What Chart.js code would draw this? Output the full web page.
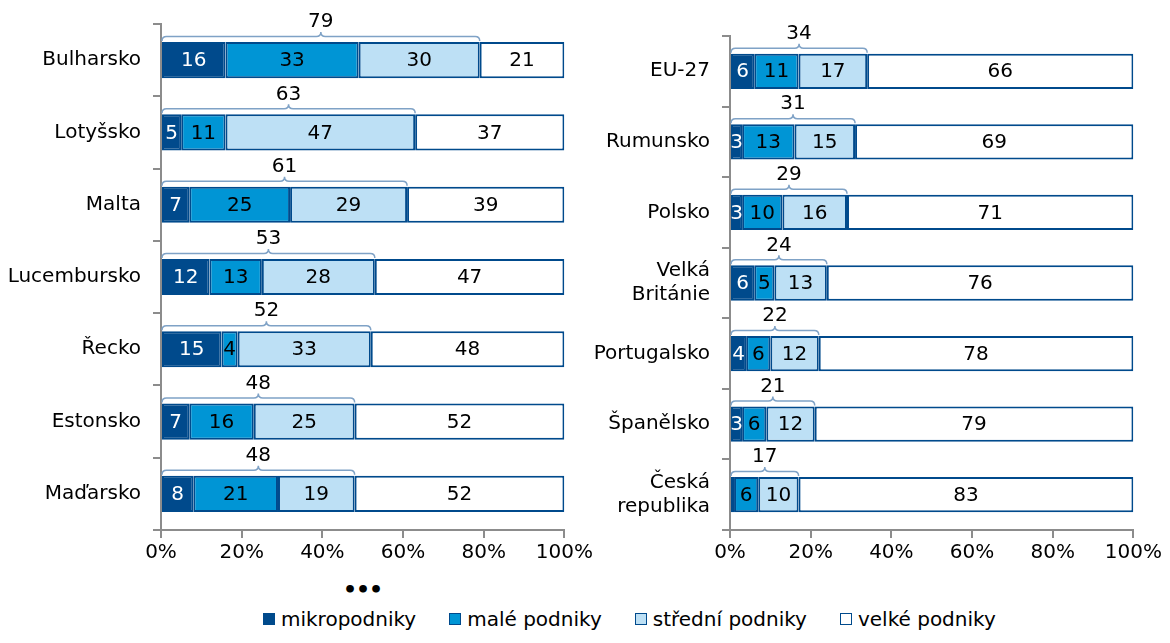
<!DOCTYPE html>
<html>
<head>
<meta charset="utf-8">
<script src="https://cdn.jsdelivr.net/npm/chart.js@4.4.1/dist/chart.umd.min.js"></script>
<style>
    body { margin: 0; background: #fff; width: 1170px; height: 643px; overflow: hidden; position: relative; font-family: "DejaVu Sans", sans-serif; }
    .box { position: absolute; top: 0; height: 570px; }
    #leftBox { left: 0; width: 596px; }
    #rightBox { left: 592px; width: 573px; }
    .dots { position: absolute; left: 343px; top: 577px; font-size: 22px; font-weight: bold; letter-spacing: -1px; }
    .legend { position: absolute; left: 263px; top: 607px; display: flex; gap: 33px; font-size: 20px; color: #000; }
    .legend span { display: flex; align-items: center; }
    .legend i { display: inline-block; width: 12px; height: 12px; margin-right: 6px; box-sizing: border-box; border: 1px solid #004a8c; }
</style>
</head>
<body>
<div class="box" id="leftBox"><canvas id="left_chart"></canvas></div>
<div class="box" id="rightBox"><canvas id="right_chart"></canvas></div>
<div class="dots">•••</div>
<div class="legend">
    <span><i style="background:#004a8c"></i>mikropodniky</span>
    <span><i style="background:#0095d5"></i>malé podniky</span>
    <span><i style="background:#bde0f5"></i>střední podniky</span>
    <span><i style="background:#fff"></i>velké podniky</span>
</div>
<script>
const seriesNames = ["mikropodniky", "malé podniky", "střední podniky", "velké podniky"];
const seriesColors = ["#004a8c", "#0095d5", "#bde0f5", "#ffffff"];
const labelColors = ["#ffffff", "#000000", "#000000", "#000000"];

const leftCategories = ["Bulharsko", "Lotyšsko", "Malta", "Lucembursko", "Řecko", "Estonsko", "Maďarsko"];
const leftMicro = [16, 5, 7, 12, 15, 7, 8];
const leftSmall = [33, 11, 25, 13, 4, 16, 21];
const leftMedium = [30, 47, 29, 28, 33, 25, 19];
const leftLarge = [21, 37, 39, 47, 48, 52, 52];

const rightCategories = ["EU-27", "Rumunsko", "Polsko", ["Velká", "Británie"], "Portugalsko", "Španělsko", ["Česká", "republika"]];
const rightMicro = [6, 3, 3, 6, 4, 3, 1];
const rightSmall = [11, 13, 10, 5, 6, 6, 6];
const rightMedium = [17, 15, 16, 13, 12, 12, 10];
const rightLarge = [66, 69, 71, 76, 78, 79, 83];

const tickValues = [0, 20, 40, 60, 80, 100];

const font = { family: "DejaVu Sans", size: 20 };

// values inside segments
const segmentLabels = {
    id: "segmentLabels",
    afterDatasetsDraw(chart) {
        const ctx = chart.ctx;
        ctx.save();
        ctx.font = "20px 'DejaVu Sans'";
        ctx.textAlign = "center";
        ctx.textBaseline = "middle";
        chart.data.datasets.forEach((ds, i) => {
            const meta = chart.getDatasetMeta(i);
            meta.data.forEach((bar, j) => {
                const v = ds.data[j];
                if (v < 2) return;
                ctx.fillStyle = labelColors[i];
                ctx.fillText(v, (bar.x + bar.base) / 2, bar.y + 1);
            });
        });
        ctx.restore();
    },
};

// brace over the first three segments with their sum
const braces = {
    id: "braces",
    afterDatasetsDraw(chart) {
        const ctx = chart.ctx;
        const xs = chart.scales.x;
        const ds = chart.data.datasets;
        const meta = chart.getDatasetMeta(0);
        ctx.save();
        meta.data.forEach((bar, j) => {
            const sum = ds[0].data[j] + ds[1].data[j] + ds[2].data[j];
            const x0 = xs.getPixelForValue(0) + 1;
            const x1 = xs.getPixelForValue(sum);
            const xm = (x0 + x1) / 2;
            const yb = bar.y - bar.height / 2 - 1;
            const h = 9;
            ctx.beginPath();
            ctx.moveTo(x0, yb);
            ctx.quadraticCurveTo(x0, yb - h / 2, x0 + h / 2, yb - h / 2);
            ctx.lineTo(xm - h / 2, yb - h / 2);
            ctx.quadraticCurveTo(xm, yb - h / 2, xm, yb - h);
            ctx.quadraticCurveTo(xm, yb - h / 2, xm + h / 2, yb - h / 2);
            ctx.lineTo(x1 - h / 2, yb - h / 2);
            ctx.quadraticCurveTo(x1, yb - h / 2, x1, yb);
            ctx.strokeStyle = "#7fa2c6";
            ctx.lineWidth = 1.5;
            ctx.stroke();
            ctx.fillStyle = "#000";
            ctx.font = "20px 'DejaVu Sans'";
            ctx.textAlign = "center";
            ctx.textBaseline = "middle";
            ctx.fillText(sum, xm, yb - 19);
        });
        ctx.restore();
    },
};

function makeChart(el, categories, micro, small, medium, large, yWidth) {
    const values = [micro, small, medium, large];
    return new Chart(el, {
        type: "bar",
        data: {
            labels: categories,
            datasets: values.map((d, i) => ({
                label: seriesNames[i],
                data: d,
                backgroundColor: seriesColors[i],
                borderColor: "#004a8c",
                borderWidth: 2,
                borderSkipped: false,
                barPercentage: 0.5,
                categoryPercentage: 1.0,
            })),
        },
        options: {
            indexAxis: "y",
            responsive: true,
            maintainAspectRatio: false,
            animation: false,
            layout: { padding: { top: 22, right: 0, bottom: 0, left: 0 } },
            plugins: {
                legend: { display: false },
                tooltip: { enabled: false },
            },
            scales: {
                x: {
                    stacked: true,
                    min: 0,
                    max: 100,
                    afterBuildTicks: (scale) => {
                        scale.ticks = tickValues.map((v) => ({ value: v }));
                    },
                    afterFit: (scale) => {
                        scale.height = 40;
                    },
                    ticks: {
                        callback: (v) => v + "%",
                        color: "#000",
                        font: font,
                        padding: 3,
                        maxRotation: 0,
                    },
                    grid: { drawOnChartArea: false, tickLength: 8, color: "#8c8c8c", lineWidth: 2 },
                    border: { color: "#8c8c8c", width: 2 },
                },
                y: {
                    stacked: true,
                    afterFit: (scale) => {
                        scale.width = yWidth;
                    },
                    ticks: { color: "#000", font: font, padding: 12 },
                    grid: { drawOnChartArea: false, tickLength: 8, color: "#8c8c8c", lineWidth: 2 },
                    border: { color: "#8c8c8c", width: 2 },
                },
            },
        },
        plugins: [segmentLabels, braces],
    });
}

makeChart(document.getElementById("left_chart"), leftCategories, leftMicro, leftSmall, leftMedium, leftLarge, 161);
makeChart(document.getElementById("right_chart"), rightCategories, rightMicro, rightSmall, rightMedium, rightLarge, 138);
</script>
</body>
</html>
